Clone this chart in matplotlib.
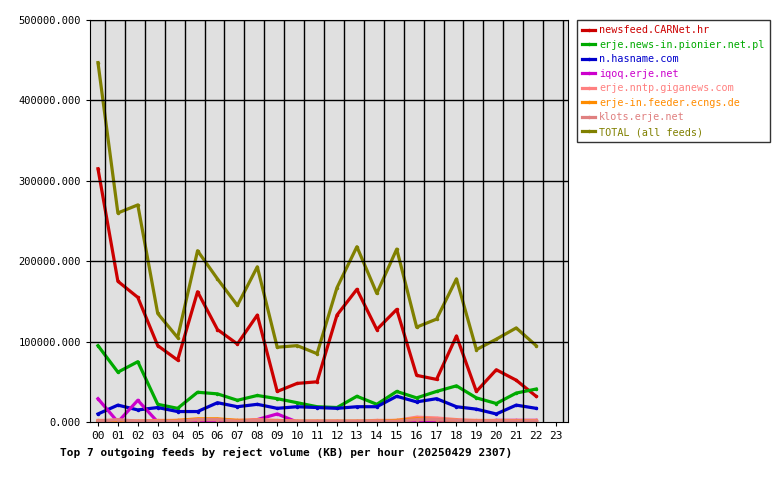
import matplotlib
matplotlib.use("Agg")
import matplotlib.pyplot as plt
from matplotlib.ticker import FuncFormatter

hours = [f"{i:02d}" for i in range(24)]
newsfeed = [315000,175000,155000,95000,77000,162000,115000,97000,133000,38000,48000,50000,133000,165000,115000,140000,58000,53000,107000,38000,65000,52000,32000]
pionier = [95000,62000,75000,22000,17000,37000,35000,27000,33000,29000,24000,19000,18000,32000,22000,38000,30000,38000,45000,30000,23000,36000,41000]
hasname = [10000,21000,15000,18000,13000,13000,24000,19000,22000,17000,19000,18000,17000,19000,19000,32000,25000,29000,19000,16000,10000,21000,17000]
iqoq = [29000,0,27000,0,0,0,0,0,3000,10000,0,0,0,0,0,0,0,0,0,0,2000,2000,2000]
giganews = [2000,2000,1000,2000,2000,3000,3000,2000,3000,2000,1000,1000,1000,1000,2000,2000,6000,5000,3000,2000,2000,2000,2000]
ecngs = [1000,1000,1000,1000,2000,4000,4000,2000,2000,1000,1000,1000,1000,1000,1000,2000,4000,3000,2000,1000,1000,1000,1000]
klots = [1000,3000,1000,1000,1000,3000,3000,1000,2000,1000,1000,1000,1000,1000,1000,1000,3000,3000,2000,1000,1000,1000,1000]
total = [447000,260000,270000,135000,105000,213000,178000,145000,193000,93000,95000,85000,167000,218000,160000,215000,118000,128000,178000,90000,103000,117000,95000]

series = [("newsfeed.CARNet.hr", newsfeed, "#cc0000"),
          ("erje.news-in.pionier.net.pl", pionier, "#00aa00"),
          ("n.hasname.com", hasname, "#0000cc"),
          ("iqoq.erje.net", iqoq, "#cc00cc"),
          ("erje.nntp.giganews.com", giganews, "#ff8080"),
          ("erje-in.feeder.ecngs.de", ecngs, "#ff8c00"),
          ("klots.erje.net", klots, "#e08080"),
          ("TOTAL (all feeds)", total, "#808000")]

plt.rcParams["font.family"] = "DejaVu Sans Mono"
fig = plt.figure(figsize=(7.8, 4.8), dpi=100)
ax = fig.add_axes([90/780, 58/480, 478/780, 402/480])
ax.set_facecolor("#e0e0e0")
x = list(range(len(total)))
for name, vals, c in series:
    ax.plot(x, vals, color=c, lw=2.3, label=name, marker="o", markersize=1.5)
ax.set_xlim(-0.4, 23.6)
ax.set_ylim(0, 500000)
ax.set_xticks(range(24))
ax.set_xticklabels(hours, fontsize=8)
ax.set_yticks(range(0, 500001, 100000))
ax.yaxis.set_major_formatter(FuncFormatter(lambda v, p: f"{v:.3f}"))
ax.tick_params(axis="y", labelsize=7.5, length=3)
ax.tick_params(axis="x", length=3)
for i in range(24):
    ax.axvline(i + 0.35, color="black", lw=1)
for v in range(100000, 500001, 100000):
    ax.axhline(v, color="black", lw=1)
for s in ax.spines.values():
    s.set_color("black")
leg = fig.legend(loc="upper left", bbox_to_anchor=(577/780, 1 - 20/480), fontsize=7.3,
                 frameon=True, fancybox=False, edgecolor="black", handlelength=1.3,
                 handletextpad=0.4, borderpad=0.5, borderaxespad=0, labelspacing=0.45)
for t, (_, _, c) in zip(leg.get_texts(), series):
    t.set_color(c)
fig.text(60/780, 1 - 452/480, "Top 7 outgoing feeds by reject volume (KB) per hour (20250429 2307)",
         fontsize=8, fontweight="bold", va="center")
fig.savefig("out.png", dpi=100)
